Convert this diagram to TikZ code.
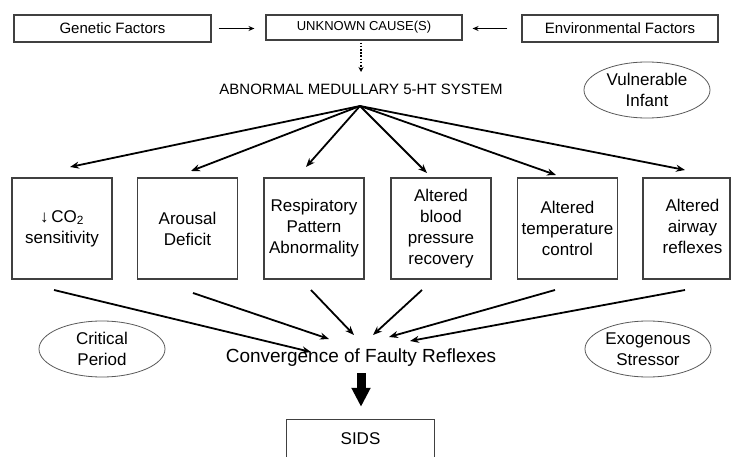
\documentclass[tikz,border=0pt]{standalone}
\usepackage{fontspec}
\setmainfont{Liberation Sans}
\usetikzlibrary{arrows.meta,shapes.geometric}
\definecolor{boxgray}{gray}{0.25}
\definecolor{ovalgray}{gray}{0.35}
\begin{document}
\begin{tikzpicture}[x=1pt,y=-1pt,
  topbox/.style={draw=boxgray, line width=1.1pt, minimum height=27pt, inner sep=0pt, font=\fontsize{15}{18}\selectfont},
  midbox/.style={draw=boxgray, line width=1.1pt, minimum width=100pt, minimum height=101pt, inner sep=0pt, align=center, font=\fontsize{17}{21}\selectfont},
  oval/.style={draw=ovalgray, ellipse, line width=0.8pt, minimum width=126pt, minimum height=56pt, inner sep=0pt, align=center, font=\fontsize{17}{21}\selectfont},
  fanarrow/.style={line width=1.8pt, -{Stealth[length=9pt,width=7pt]}},
  thinarrow/.style={line width=1pt, -{Stealth[length=6pt,width=5pt]}},
  dotarrow/.style={line width=1.6pt, dash pattern=on 1.6pt off 1.6pt, -{Stealth[length=5pt,width=5pt]}},
  bigarrow/.style={line width=9pt, -{Triangle[length=19pt,width=18pt]}},
  plain/.style={inner sep=0pt, align=center}
]
\useasboundingbox (0,0) rectangle (731,457);

% top row
\node[topbox, minimum width=197pt] (gen) at (112.5,28.5) {Genetic Factors};
\node[topbox, minimum width=196pt, minimum height=25pt, font=\fontsize{13}{15}\selectfont] (unk) at (364,27.5) {UNKNOWN CAUSE(S)};
\node[topbox, minimum width=196pt] (env) at (620,28.5) {Environmental Factors};

\draw[thinarrow, shorten <=7pt, shorten >=11pt] (gen.east) -- (gen.east -| unk.west);
\draw[thinarrow, shorten <=14pt, shorten >=10pt] (env.west) -- (env.west -| unk.east);

% title
\node[plain, font=\fontsize{15}{18}\selectfont] (abn) at (361,89) {ABNORMAL MEDULLARY 5-HT SYSTEM};
\coordinate (dtip) at (361,72);
\draw[dotarrow, shorten <=2pt] (unk.south -| dtip) -- (dtip);

\node[oval] (vul) at (647,90) {Vulnerable\\Infant};

% six boxes
\node[midbox] (b1) at (62,228.5) {↓\,CO\textsubscript{2}\\sensitivity};
\node[midbox] (b2) at (187.5,228.5) {Arousal\\Deficit};
\node[midbox] (b3) at (314,228.5) {Respiratory\\Pattern\\Abnormality};
\node[midbox] (b4) at (441,228.5) {Altered\\blood\\pressure\\recovery};
\node[midbox] (b5) at (567.5,228.5) {Altered\\temperature\\control};
\node[midbox, minimum width=87pt] (b6) at (686.5,228.5) {\hspace*{12pt}\begin{tabular}{@{}c@{}}Altered\\airway\\reflexes\end{tabular}};

% fan from the 5-HT system
\coordinate (hub) at (360,106);
\coordinate (t1) at (70,167);
\coordinate (t2) at (191,171);
\coordinate (t3) at (306,167);
\coordinate (t4) at (427,173);
\coordinate (t5) at (556,175);
\coordinate (t6) at (685,170);
\foreach \t in {t1,t2,t3,t4,t5,t6} \draw[fanarrow] (hub) -- (\t);

% convergence
\node[plain, font=\fontsize{19}{22}\selectfont] (conv) at (361,358) {Convergence of Faulty Reflexes};
\node[oval] (crit) at (102,349) {Critical\\Period};
\node[oval] (exo) at (648,349) {Exogenous\\Stressor};

\coordinate (s1) at (54,290);  \coordinate (e1) at (311,352);
\coordinate (s2) at (193,293); \coordinate (e2) at (329,339);
\coordinate (s3) at (311,290); \coordinate (e3) at (354,335);
\coordinate (s4) at (422,290); \coordinate (e4) at (373,335);
\coordinate (s5) at (555,290); \coordinate (e5) at (389,337);
\coordinate (s6) at (685,290); \coordinate (e6) at (410,341);
\foreach \i in {1,...,6} \draw[fanarrow] (s\i) -- (e\i);

% SIDS
\node[plain, minimum width=147pt, minimum height=37pt, font=\fontsize{17}{20}\selectfont] (sids) at (360.5,438.5) {\raisebox{-4.5pt}{SIDS}};
\draw[boxgray, line width=1.1pt] (sids.south west) -- (sids.north west) -- (sids.north east) -- (sids.south east);
\coordinate (bstart) at (361,373);
\draw[bigarrow, shorten >=13pt] (bstart) -- (bstart |- sids.north);
\end{tikzpicture}
\end{document}
